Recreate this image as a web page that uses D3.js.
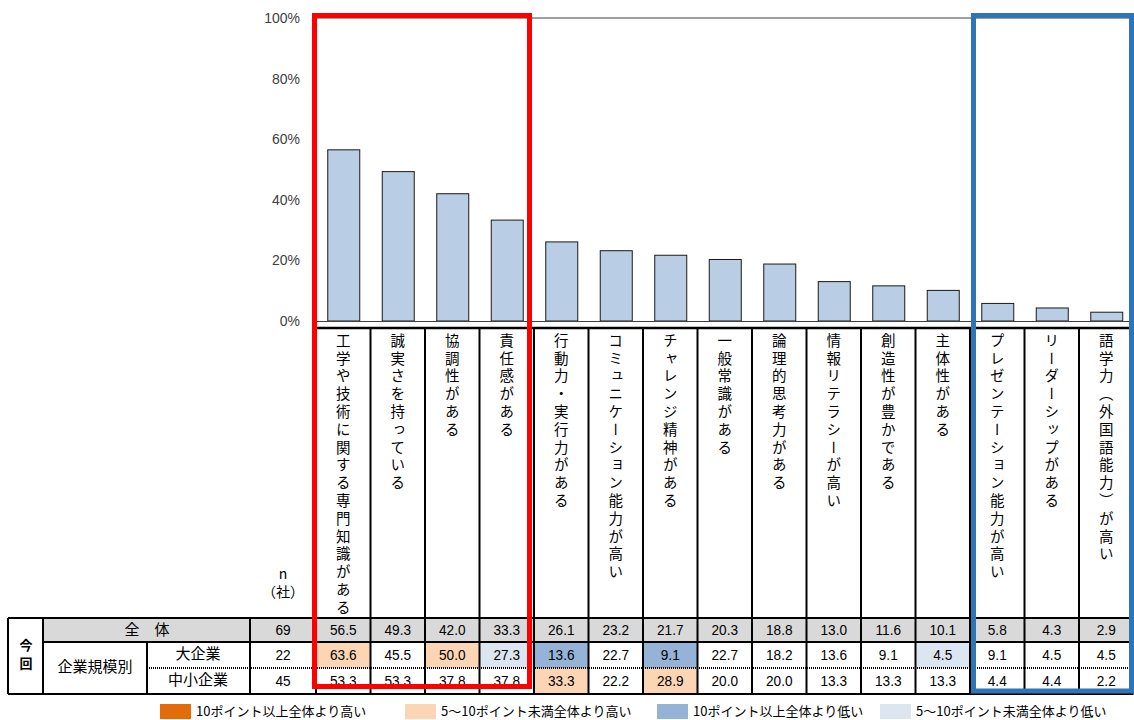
<!DOCTYPE html>
<html><head><meta charset="utf-8">
<script src="https://cdn.jsdelivr.net/npm/d3@7"></script>
<style>
body{margin:0;background:#fff}
svg{display:block}
.vt{writing-mode:vertical-rl;text-orientation:upright}
</style>
</head><body>
<svg id="c" width="1134" height="720"></svg>
<script>
const categories = ["工学や技術に関する専門知識がある","誠実さを持っている","協調性がある","責任感がある","行動力・実行力がある","コミュニケーション能力が高い","チャレンジ精神がある","一般常識がある","論理的思考力がある","情報リテラシーが高い","創造性が豊かである","主体性がある","プレゼンテーション能力が高い","リーダーシップがある","語学力（外国語能力）が高い"];
const overall = [56.5,49.3,42.0,33.3,26.1,23.2,21.7,20.3,18.8,13.0,11.6,10.1,5.8,4.3,2.9];
const large   = [63.6,45.5,50.0,27.3,13.6,22.7,9.1,22.7,18.2,13.6,9.1,4.5,9.1,4.5,4.5];
const sme     = [53.3,53.3,37.8,37.8,33.3,22.2,28.9,20.0,20.0,13.3,13.3,13.3,4.4,4.4,2.2];
const nValues = [69,22,45];
const rowLabels = ["全　体","大企業","中小企業"];
const groupLabel = "企業規模別";
const periodLabel = ["今","回"];
const yTicks = [0,20,40,60,80,100];
const legendLabels = ["10ポイント以上全体より高い","5～10ポイント未満全体より高い","10ポイント以上全体より低い","5～10ポイント未満全体より低い"];
const legendColors = ["#E26B0A","#FCD5B4","#95B3D7","#DCE6F1"];

const svg = d3.select("#c");
const colL = 316, colR = 1133.5;
const plotTop = 18, plotBottom = 321;
const labelTop = 328, tableTop = 618, r1 = 642, r2 = 668, tableBottom = 694;
const numFont = "'Liberation Sans Narrow','Arial Narrow','Liberation Sans',Arial,sans-serif";
const jpFont = "'Noto Sans CJK JP','Noto Sans',sans-serif";

const x = d3.scaleBand().domain(d3.range(categories.length)).range([colL, colR]).padding(0);
const bw = x.bandwidth();
const y = d3.scaleLinear().domain([0,100]).range([plotBottom, plotTop]);

// plot frame lines
svg.append("line").attr("x1",colL).attr("x2",colR).attr("y1",y(100)).attr("y2",y(100)).attr("stroke","#404040").attr("stroke-width",1);

// y axis
const yAxis = d3.axisLeft(y).tickValues(yTicks).tickFormat(d=>d+"%").tickSize(0).tickPadding(3);
const ga = svg.append("g").attr("transform","translate(303,0)").call(yAxis);
ga.select(".domain").remove();
ga.selectAll("text").attr("font-family","'Liberation Sans',Arial,sans-serif").attr("font-size",14).attr("fill","#404040");

// bars
const barW = 32;
svg.append("g").selectAll("rect").data(overall).join("rect")
  .attr("x",(d,i)=>x(i)+bw/2-barW/2+0.5)
  .attr("y",d=>y(d))
  .attr("width",barW)
  .attr("height",d=>y(0)-y(d))
  .attr("fill","#B9CDE5").attr("stroke","#1a1a1a").attr("stroke-width",1);

svg.append("line").attr("x1",colL).attr("x2",colR).attr("y1",y(0)+0.5).attr("y2",y(0)+0.5).attr("stroke","#404040").attr("stroke-width",1);

// vertical category labels
svg.append("g").selectAll("text").data(categories).join("text")
  .attr("class","vt")
  .attr("x",(d,i)=>x(i)+bw/2)
  .attr("y",labelTop+5)
  .attr("font-family",jpFont).attr("font-size",14.5).attr("letter-spacing","3.3px")
  .attr("fill","#000")
  .text(d=>d);

// n label
svg.append("text").attr("x",283).attr("y",579).attr("text-anchor","middle").attr("font-family",jpFont).attr("font-size",14).text("n");
svg.append("text").attr("x",283).attr("y",597).attr("text-anchor","middle").attr("font-family",jpFont).attr("font-size",14).text("（社）");

// table backgrounds
svg.append("rect").attr("x",43).attr("y",tableTop).attr("width",colR-43).attr("height",r1-tableTop).attr("fill","#D9D9D9");

function cellColor(v, base){
  const d = v - base;
  if (d >= 10) return legendColors[0];
  if (d >= 5) return legendColors[1];
  if (d <= -10) return legendColors[2];
  if (d <= -5) return legendColors[3];
  return "#fff";
}
const subRows = [{vals:large, y0:r1, y1:r2},{vals:sme, y0:r2, y1:tableBottom}];
subRows.forEach(r=>{
  svg.append("g").selectAll("rect").data(r.vals).join("rect")
    .attr("x",(d,i)=>x(i)).attr("y",r.y0).attr("width",bw).attr("height",r.y1-r.y0)
    .attr("fill",(d,i)=>cellColor(d, overall[i]));
});

// table text (slightly condensed numerals)
const numText = (g, cx, cy, t)=> g.append("text")
  .attr("transform",`translate(${cx},${cy+1}) scale(0.88,1)`)
  .attr("text-anchor","middle").attr("dominant-baseline","middle")
  .attr("font-family","'Liberation Sans',Arial,sans-serif").attr("font-size",15.5).attr("fill","#000").text(t);
const rowsData = [{vals:overall,cy:(tableTop+r1)/2},{vals:large,cy:(r1+r2)/2},{vals:sme,cy:(r2+tableBottom)/2}];
const gt = svg.append("g");
rowsData.forEach((r,ri)=>{
  r.vals.forEach((v,i)=>numText(gt, x(i)+bw/2, r.cy, v.toFixed(1)));
  numText(gt, 283, r.cy, nValues[ri]);
});
svg.append("text").attr("x",147).attr("y",(tableTop+r1)/2+1).attr("text-anchor","middle").attr("dominant-baseline","middle")
  .attr("font-family",jpFont).attr("font-size",15).text(rowLabels[0]);
svg.append("text").attr("x",198).attr("y",(r1+r2)/2).attr("text-anchor","middle").attr("dominant-baseline","middle")
  .attr("font-family",jpFont).attr("font-size",15).text(rowLabels[1]);
svg.append("text").attr("x",198).attr("y",(r2+tableBottom)/2).attr("text-anchor","middle").attr("dominant-baseline","middle")
  .attr("font-family",jpFont).attr("font-size",15).text(rowLabels[2]);
svg.append("text").attr("x",95).attr("y",(r1+tableBottom)/2).attr("text-anchor","middle").attr("dominant-baseline","middle")
  .attr("font-family",jpFont).attr("font-size",15).text(groupLabel);
periodLabel.forEach((c,i)=>{
  svg.append("text").attr("x",26).attr("y",646+i*18).attr("text-anchor","middle").attr("dominant-baseline","middle")
    .attr("font-family",jpFont).attr("font-size",13).attr("font-weight","bold").text(c);
});

// table lines
const L = (x1,y1,x2,y2,w,dash)=>{const l=svg.append("line").attr("x1",x1).attr("y1",y1).attr("x2",x2).attr("y2",y2).attr("stroke","#000").attr("stroke-width",w||2); if(dash) l.attr("stroke-dasharray",dash); return l;};
L(colL,labelTop,colR,labelTop,2.5);
d3.range(categories.length+1).forEach(i=>{ const xx = i<categories.length ? x(i) : colR-1; L(xx,labelTop,xx,tableBottom,2); });
L(8,tableTop,colR,tableTop,2);
L(43,r1,colR,r1,2);
L(147,r2,colR,r2,2,"1,1");
L(8,tableBottom,colR,tableBottom,2);
L(8,tableTop,8,tableBottom,2);
L(43,tableTop,43,tableBottom,2);
L(147,r1,147,tableBottom,2);
L(250,tableTop,250,tableBottom,2);

// highlight boxes
svg.append("rect").attr("x",x(0)-1.5).attr("y",15.5).attr("width",(x(4)-4.5)-(x(0)-1.5)).attr("height",686.5-15.5)
  .attr("fill","none").attr("stroke","#FF0000").attr("stroke-width",5);
svg.append("rect").attr("x",x(12)+3.5).attr("y",15.5).attr("width",(colR-2)-(x(12)+3.5)).attr("height",691-15.5)
  .attr("fill","none").attr("stroke","#2E75B6").attr("stroke-width",5);

// legend
const legX = [160,405,657,880];
const lg = svg.append("g").selectAll("g").data(legendLabels).join("g").attr("transform",(d,i)=>`translate(${legX[i]},704)`);
lg.append("rect").attr("width",31).attr("height",15).attr("fill",(d,i)=>legendColors[i]);
lg.append("text").attr("x",36).attr("y",8).attr("dominant-baseline","middle").attr("font-family",jpFont).attr("font-size",13).attr("fill","#000").text(d=>d);
</script>
</body></html>
